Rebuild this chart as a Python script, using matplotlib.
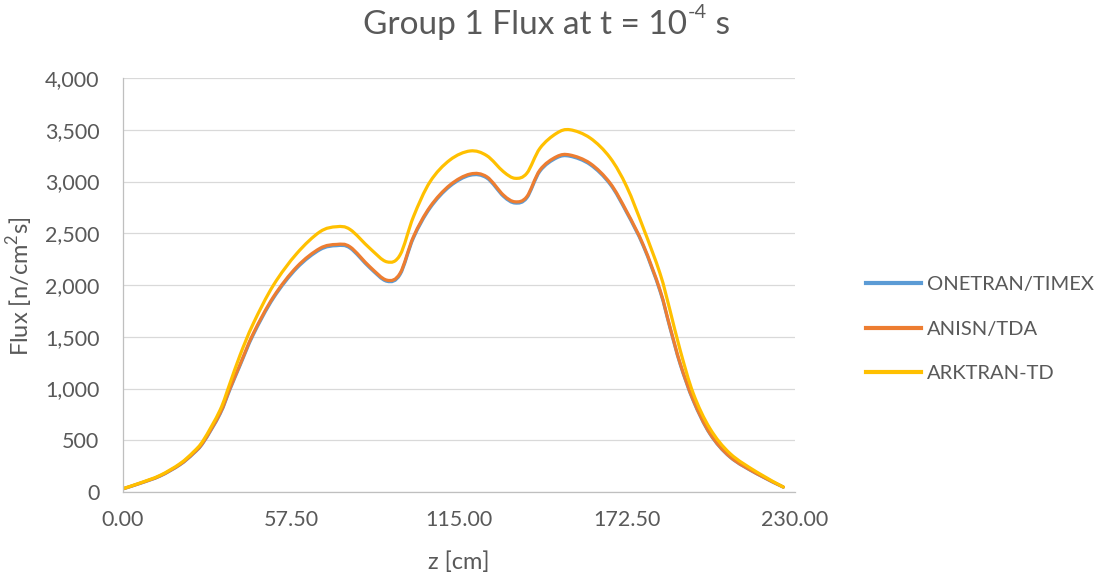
import matplotlib
matplotlib.use("Agg")
import matplotlib.pyplot as plt
from matplotlib.ticker import FuncFormatter, MultipleLocator
from matplotlib.path import Path
from matplotlib.patches import PathPatch
from matplotlib.lines import Line2D

plt.rcParams['font.family'] = ['Lato', 'DejaVu Sans']

# ---- data ----
z = [0.1, 5.8, 12.7, 19.5, 24.1, 27.5, 33.2, 36.6, 40.1, 44.6, 51.5, 59.5, 67.4, 73.1,
     77.7, 84.5, 90.3, 94.8, 99.4, 105.1, 111.9, 118.8, 124.5, 130.2, 134.2, 138.2,
     142.7, 148.4, 153.0, 159.9, 166.7, 172.4, 178.1, 183.8, 187.2, 190.7, 195.2,
     200.9, 207.8, 216.9, 226.0]

onetran = [31, 83, 154, 263, 371, 478, 752, 990, 1225, 1520, 1874, 2163, 2341, 2380,
           2357, 2165, 2036, 2100, 2454, 2744, 2954, 3060, 3034, 2857, 2792, 2841,
           3099, 3228, 3244, 3163, 2974, 2699, 2375, 1941, 1587, 1234, 880,
           560, 336, 176, 47]

anisn = [32, 84, 156, 266, 375, 483, 760, 1000, 1235, 1532, 1886, 2176, 2354, 2392,
         2369, 2176, 2047, 2112, 2466, 2756, 2966, 3072, 3046, 2869, 2804, 2853,
         3111, 3240, 3256, 3175, 2985, 2710, 2385, 1951, 1596, 1242, 887,
         565, 339, 178, 48]

arktran = [33, 87, 161, 274, 387, 500, 790, 1050, 1325, 1628, 1999, 2305, 2514, 2563,
           2537, 2354, 2224, 2289, 2659, 2998, 3208, 3295, 3250, 3095, 3031, 3079,
           3321, 3466, 3500, 3420, 3230, 2950, 2550, 2112, 1757, 1370, 951,
           613, 371, 193, 48]

series_names = ["ONETRAN/TIMEX", "ANISN/TDA", "ARKTRAN-TD"]
x_ticks = [0.0, 57.5, 115.0, 172.5, 230.0]


def smooth_path(xs, ys):
    """Excel-style smoothed line: cubic Bezier through the points (Catmull-Rom)."""
    n = len(xs)
    verts = [(xs[0], ys[0])]
    codes = [Path.MOVETO]
    for i in range(n - 1):
        x0, y0 = (xs[i - 1], ys[i - 1]) if i > 0 else (xs[i], ys[i])
        x1, y1 = xs[i], ys[i]
        x2, y2 = xs[i + 1], ys[i + 1]
        x3, y3 = (xs[i + 2], ys[i + 2]) if i + 2 < n else (xs[i + 1], ys[i + 1])
        c1 = (x1 + (x2 - x0) / 6.0, y1 + (y2 - y0) / 6.0)
        c2 = (x2 - (x3 - x1) / 6.0, y2 - (y3 - y1) / 6.0)
        verts += [c1, c2, (x2, y2)]
        codes += [Path.CURVE4] * 3
    return Path(verts, codes)


# ---- styling ----
W, H = 1104, 575
fig = plt.figure(figsize=(W / 100, H / 100), dpi=100)
ax = fig.add_axes([123 / W, 1 - 492 / H, (795 - 123) / W, (492 - 78) / H])

text_col = '#595959'
colors = ['#5B9BD5', '#ED7D31', '#FFC000']
lw = 2.3

handles = []
for vals, c, name in zip([onetran, anisn, arktran], colors, series_names):
    ax.add_patch(PathPatch(smooth_path(z, vals), fill=False, edgecolor=c, lw=lw,
                           capstyle='round', joinstyle='round'))
    handles.append(Line2D([], [], color=c, lw=3.0, label=name))

ax.set_xlim(0, 230)
ax.set_ylim(0, 4000)
ax.set_xticks(x_ticks)
ax.xaxis.set_major_formatter(FuncFormatter(lambda v, p: f"{v:.2f}"))
ax.yaxis.set_major_locator(MultipleLocator(500))
ax.yaxis.set_major_formatter(FuncFormatter(lambda v, p: f"{int(v):,}"))

ax.grid(axis='y', color='#D9D9D9', lw=0.9)
ax.set_axisbelow(True)
for s in ['top', 'right']:
    ax.spines[s].set_visible(False)
for s in ['left', 'bottom']:
    ax.spines[s].set_color('#BFBFBF')
    ax.spines[s].set_linewidth(0.9)

ax.tick_params(axis='both', length=0, labelsize=15.5, labelcolor=text_col)
ax.tick_params(axis='y', pad=17)
ax.tick_params(axis='x', pad=13)

# title with a real hyphen in the superscript
title_fs = 24
t1 = fig.text(363 / W, 1 - 25 / H, "Group 1 Flux at t = 10", ha='left',
              va='center', fontsize=title_fs, color=text_col)
fig.canvas.draw()
r = fig.canvas.get_renderer()
bb = t1.get_window_extent(r)
t2 = fig.text(bb.x1 / W + 1 / W, (bb.y0 + bb.height * 0.62) / H, "-4",
              ha='left', va='bottom', fontsize=title_fs * 0.6, color=text_col)
bb2 = t2.get_window_extent(r)
fig.text(bb2.x1 / W, 1 - 25 / H, " s", ha='left', va='center',
         fontsize=title_fs, color=text_col)

fig.text(20 / W, 1 - 286 / H, r"Flux [n/cm$^{\mathregular{2}}$s]", rotation=90,
         ha='center', va='center', fontsize=17, color=text_col)
fig.text(459 / W, 1 - 562 / H, "z [cm]", ha='center', va='center',
         fontsize=17, color=text_col)

leg = fig.legend(handles=handles, loc='center left',
                 bbox_to_anchor=(866 / W, 1 - 329 / H),
                 frameon=False, fontsize=14.5, handlelength=2.75,
                 handletextpad=0.28, labelspacing=1.35, borderpad=0,
                 borderaxespad=0)
for t in leg.get_texts():
    t.set_color(text_col)

fig.savefig("out.png", dpi=100)
